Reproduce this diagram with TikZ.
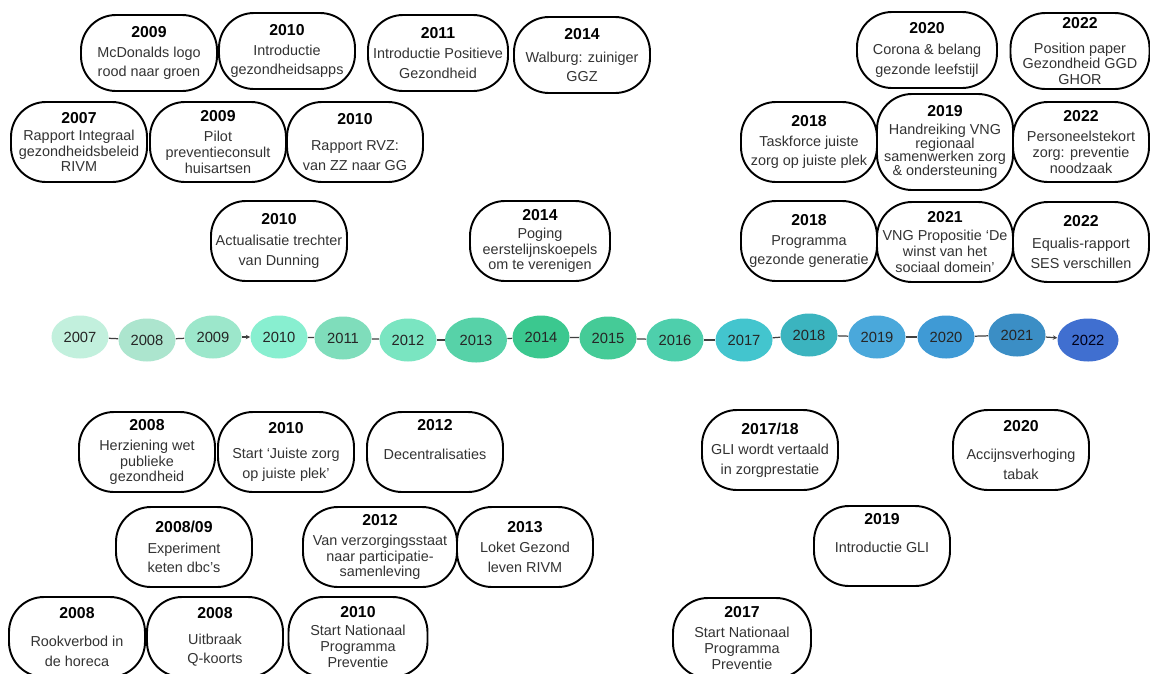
\documentclass[tikz,border=0pt]{standalone}
\usepackage{fontspec}
\setmainfont{Liberation Sans}
\usetikzlibrary{shapes.geometric,arrows.meta}

\definecolor{c2007}{HTML}{C2F0DD}
\definecolor{c2008}{HTML}{ACE5CE}
\definecolor{c2009}{HTML}{9CE7CB}
\definecolor{c2010}{HTML}{88EFD0}
\definecolor{c2011}{HTML}{7FDDBB}
\definecolor{c2012}{HTML}{7AE5C1}
\definecolor{c2013}{HTML}{57D2A8}
\definecolor{c2014}{HTML}{3BC88F}
\definecolor{c2015}{HTML}{45CB97}
\definecolor{c2016}{HTML}{4ECFAC}
\definecolor{c2017}{HTML}{43C5CE}
\definecolor{c2018}{HTML}{3BB4BF}
\definecolor{c2019}{HTML}{4AA8DB}
\definecolor{c2020}{HTML}{3F9AD5}
\definecolor{c2021}{HTML}{3B8EC5}
\definecolor{c2022}{HTML}{406FD0}

\lineskiplimit=-4pt

\tikzset{
  eventbox/.style={draw=black, line width=1.1pt, rounded corners=7mm,
    minimum width=27.2mm, minimum height=16mm, inner sep=0.5pt,
    align=center, text=black!80, font=\fontsize{8.2}{8.9}\selectfont},
  loose/.style={font=\fontsize{8.2}{11.2}\selectfont},
  cramped/.style={font=\fontsize{8.2}{7.7}\selectfont},
  toprow/.style={minimum height=15.2mm},
  yearnode/.style={ellipse, minimum width=11.4mm, minimum height=8.6mm,
    inner sep=0pt, text=black!85, font=\fontsize{8.4}{10}\selectfont},
  tick/.style={draw=black!75, line width=0.7pt},
  tickarrow/.style={tick, -{Stealth[length=2.5pt,width=2.5pt]}}
}
\newcommand{\jaar}[1]{{\bfseries\fontsize{9}{9}\selectfont\color{black}#1}}

\begin{document}
\begin{tikzpicture}[x=0.2mm, y=-0.2mm]
    \clip (0,0) rectangle (1150,673);
    \fill[white] (0,0) rectangle (1150,673);

    % tijdlijn
    \node[yearnode, fill=c2007] (y2007) at (80,337) {2007};
    \node[yearnode, fill=c2008] (y2008) at (147,340) {2008};
    \node[yearnode, fill=c2009] (y2009) at (213,337) {2009};
    \node[yearnode, fill=c2010] (y2010) at (279,337) {2010};
    \node[yearnode, fill=c2011] (y2011) at (343,338) {2011};
    \node[yearnode, fill=c2012] (y2012) at (408,340) {2012};
    \node[yearnode, fill=c2013, minimum width=12.4mm, minimum height=9mm] (y2013) at (476,340) {2013};
    \node[yearnode, fill=c2014] (y2014) at (541,337) {2014};
    \node[yearnode, fill=c2015] (y2015) at (608,338) {2015};
    \node[yearnode, fill=c2016] (y2016) at (675,340) {2016};
    \node[yearnode, fill=c2017] (y2017) at (744,340) {2017};
    \node[yearnode, fill=c2018] (y2018) at (809,335) {2018};
    \node[yearnode, fill=c2019] (y2019) at (877,337) {2019};
    \node[yearnode, fill=c2020] (y2020) at (946,337) {2020};
    \node[yearnode, fill=c2021] (y2021) at (1017,335) {2021};
    \node[yearnode, fill=c2022, minimum width=12.2mm, text=black!90!blue] (y2022) at (1088,340) {2022};

    \draw[tick] (y2007) -- (y2008);
    \draw[tick] (y2008) -- (y2009);
    \draw[tickarrow] (y2009) -- (y2010);
    \draw[tick] (y2010) -- (y2011);
    \draw[tick] (y2011) -- (y2012);
    \draw[tick] (y2012) -- (y2013);
    \draw[tick] (y2013) -- (y2014);
    \draw[tick] (y2014) -- (y2015);
    \draw[tick] (y2015) -- (y2016);
    \draw[tick] (y2016) -- (y2017);
    \draw[tick] (y2017) -- (y2018);
    \draw[tick] (y2018) -- (y2019);
    \draw[tick] (y2019) -- (y2020);
    \draw[tick] (y2020) -- (y2021);
    \draw[tickarrow] (y2021) -- (y2022);

    % boven, eerste rij
    \node[eventbox, loose, toprow] (mcdonalds) at (149,53) {\jaar{2009}\\McDonalds logo\\rood naar groen};
    \node[eventbox, loose, toprow] (apps) at (287,51) {\jaar{2010}\\Introductie\\gezondheidsapps};
    \node[eventbox, loose, toprow, minimum width=28mm] (positief) at (438,53) {\jaar{2011}\\Introductie Positieve\\Gezondheid};
    \node[eventbox, loose, toprow] (walburg) at (582,55) {\jaar{2014}\\[2pt]Walburg: zuiniger\\GGZ};
    \node[eventbox, loose, toprow, minimum width=28mm] (corona) at (927,50) {\jaar{2020}\\[1pt]Corona \& belang\\gezonde leefstijl};
    \node[eventbox, toprow, minimum width=27.8mm] (positionpaper) at (1080,51) {\jaar{2022}\\[5pt]Position paper\\Gezondheid GGD\\GHOR};

    % boven, tweede rij
    \node[eventbox] (rapportrivm) at (79,142) {\jaar{2007}\\[1pt]Rapport Integraal\\gezondheidsbeleid\\RIVM};
    \node[eventbox] (pilot) at (218,142) {\jaar{2009}\\[2.5pt]Pilot\\preventieconsult\\huisartsen};
    \node[eventbox, loose] (rvz) at (355,142) {\jaar{2010}\\[3.5pt]Rapport RVZ:\\van ZZ naar GG};
    \node[eventbox, loose] (taskforce) at (809,142) {\jaar{2018}\\Taskforce juiste\\zorg op juiste plek};
    \node[eventbox, cramped, minimum height=19.2mm] (handreiking) at (945,142) {\jaar{2019}\\[2.5pt]Handreiking VNG\\regionaal\\samenwerken zorg\\\& ondersteuning};
    \node[eventbox] (personeel) at (1081,142) {\jaar{2022}\\[2.5pt]Personeelstekort\\zorg: preventie\\noodzaak};

    % boven, derde rij
    \node[eventbox, loose] (dunning) at (279,241) {\jaar{2010}\\[1pt]Actualisatie trechter\\van Dunning};
    \node[eventbox, minimum width=28mm] (poging) at (540,241) {\jaar{2014}\\[1.5pt]Poging\\eerstelijnskoepels\\om te verenigen};
    \node[eventbox, loose] (gezgen) at (809,241) {\jaar{2018}\\Programma\\gezonde generatie};
    \node[eventbox] (propositie) at (945,242) {\jaar{2021}\\[1.5pt]VNG Propositie ‘De\\winst van het\\sociaal domein’};
    \node[eventbox, loose] (equalis) at (1081,242) {\jaar{2022}\\[1pt]Equalis-rapport\\SES verschillen};

    % onder, eerste rij
    \node[eventbox] (herziening) at (147,452) {\jaar{2008}\\[2.5pt]Herziening wet\\publieke\\gezondheid};
    \node[eventbox, loose] (juistezorg) at (286,452) {\jaar{2010}\\[3pt]Start ‘Juiste zorg\\op juiste plek’};
    \node[eventbox, loose] (decentraal) at (435,452) {\jaar{2012}\\[5.5pt]Decentralisaties\\\strut};
    \node[eventbox, loose] (gli1718) at (770,450) {\jaar{2017/18}\\[0.5pt]GLI wordt vertaald\\in zorgprestatie};
    \node[eventbox, loose] (accijns) at (1021,450) {\jaar{2020}\\[5pt]Accijnsverhoging\\tabak};

    % onder, tweede rij
    \node[eventbox, loose] (experiment) at (184,547) {\jaar{2008/09}\\[0.5pt]Experiment\\keten dbc's};
    \node[eventbox, minimum width=30.8mm] (participatie) at (380,547) {\jaar{2012}\\[2.5pt]Van verzorgingsstaat\\naar participatie-\\samenleving};
    \node[eventbox, loose] (loket) at (525,547) {\jaar{2013}\\[0.5pt]Loket Gezond\\leven RIVM};
    \node[eventbox, loose] (gli2019) at (882,546) {\jaar{2019}\\[4.5pt]Introductie GLI\\\strut};

    % onder, derde rij
    \node[eventbox, loose] (rookverbod) at (77,637) {\jaar{2008}\\[5pt]Rookverbod in\\de horeca};
    \node[eventbox, loose] (qkoorts) at (215,637) {\jaar{2008}\\[3.5pt]Uitbraak\\Q-koorts};
    \node[eventbox, minimum width=27.8mm] (npp2010) at (358,637) {\jaar{2010}\\[1.5pt]Start Nationaal\\Programma\\Preventie};
    \node[eventbox, minimum width=27.6mm] (npp2017) at (742,638) {\jaar{2017}\\[2.5pt]Start Nationaal\\Programma\\Preventie};
\end{tikzpicture}
\end{document}
